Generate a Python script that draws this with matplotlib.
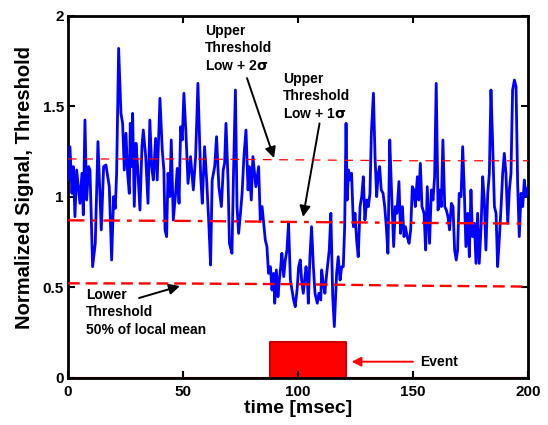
import matplotlib
matplotlib.use("Agg")
import matplotlib.pyplot as plt
import numpy as np

plt.rcParams['font.family'] = ['Liberation Sans', 'DejaVu Sans']
plt.rcParams['font.weight'] = 'bold'

# ---- data ----
sig_t = [0.0, 0.87, 1.74, 2.32, 3.04, 3.77, 5.22, 6.09, 6.67, 7.39, 8.12, 8.99, 9.57, 10.72, 11.88,
         13.04, 14.49, 15.51, 16.52, 17.97, 18.99, 19.86, 20.58, 21.16, 22.03, 23.04, 23.77, 24.49,
         25.22, 25.94, 26.67, 27.10, 27.68, 28.12, 28.84, 29.57, 30.29, 31.30, 32.17, 32.75,
         33.8, 34.8, 35.6, 36.4, 37.1, 38.1, 38.8, 40.0, 41.0, 41.7, 42.2, 42.9, 43.5, 44.3, 44.9,
         45.8, 46.8, 47.5, 48.3, 49.0, 49.7, 50.4, 51.3, 52.2, 53.3, 54.5, 55.5, 56.5, 57.7, 58.4,
         59.4, 60.3, 61.3, 62.0, 62.7, 63.8, 64.6, 65.6, 66.7, 67.5,
         68.1, 68.7, 69.6, 70.2, 71.3, 72.0, 72.8, 73.5, 74.2, 75.0, 75.7, 76.5, 77.4, 78.3, 78.8,
         79.7, 80.4, 81.0, 81.7, 82.9, 83.6, 84.4, 85.1, 85.8, 86.5, 87.2, 88.0, 88.7, 89.4, 89.9,
         90.6, 91.3, 91.9, 92.5, 93.0, 93.8, 94.5, 95.2, 95.9, 96.7, 97.4, 98.1, 98.8, 99.6, 100.3, 101.0,
         101.6, 102.3, 103.5, 104.1, 104.5, 105.2, 105.9, 106.7, 107.4, 108.4, 109.1, 109.9, 110.3,
         111.0, 111.7, 112.5, 113.6, 114.3, 115.1, 115.8, 116.8, 117.5, 118.3, 119.0, 119.7, 120.3,
         120.9, 121.4, 122.0, 122.6, 123.3, 124.1, 124.8, 125.5, 126.2, 127.0, 127.7, 128.4, 129.1,
         129.9, 130.6, 131.3, 131.9, 132.8, 133.5, 134.2, 134.9,
         135.5, 136.2, 137.0, 137.7, 138.4, 139.1, 139.9, 140.6, 141.6, 142.3, 143.0, 143.9, 144.6,
         145.4, 146.1, 146.7, 147.5, 148.3, 149.0, 149.7, 150.4, 151.0, 151.9, 152.5, 153.2, 153.9,
         154.8, 155.5, 156.2, 157.2, 158.0, 158.7, 159.4, 160.1, 160.9, 161.6, 162.3, 163.0, 163.8,
         164.5, 165.2, 165.9, 166.7, 167.4, 168.1, 168.8,
         169.4, 170.1, 170.9, 171.6, 172.3, 173.0, 173.8, 174.5, 175.2, 175.9, 176.7, 177.4, 178.1,
         178.8, 179.6, 180.3, 181.0, 181.7, 182.5, 183.2, 183.9, 184.6, 185.4, 186.1, 186.8, 187.5,
         188.3, 189.0, 189.7, 190.4, 191.2, 191.9, 192.6, 193.3, 194.1, 194.8, 195.5, 196.2, 197.0,
         197.7, 198.4, 199.1, 200.0]
sig_v = [1.094, 1.278, 1.020, 1.168, 0.891, 1.149, 0.965, 1.131, 0.901, 1.425, 0.983, 1.168, 1.149,
         0.615, 0.744, 1.306, 0.818, 1.168, 1.177, 1.057, 0.652, 1.002, 0.937, 1.131, 1.821, 1.462,
         1.407, 1.149, 1.352, 1.131, 1.020, 1.407, 1.168, 1.462, 0.948, 1.297, 1.168, 0.928, 1.278, 1.370,
         1.223, 0.965, 1.425, 1.168, 1.094, 1.324, 1.094, 1.545, 1.260, 1.149, 0.818, 0.781, 1.131,
         1.002, 1.315, 0.873, 1.020, 1.158, 0.965, 1.388, 1.315, 1.573, 1.352, 1.075, 1.223, 1.039,
         1.223, 1.628, 1.112, 0.965, 1.278, 1.094, 0.836, 0.624, 1.094, 1.168, 1.333, 1.057, 0.947, 1.149,
         1.186, 1.407, 1.094, 0.744, 0.689, 1.149, 1.591, 0.947, 0.799, 0.910, 1.020, 1.223, 1.370,
         1.039, 1.168, 0.983, 1.223, 1.149, 1.057, 1.168, 0.873, 0.947, 0.855, 0.762, 0.726, 0.578,
         0.615, 0.486, 0.578, 0.413, 0.597, 0.449, 0.541, 0.615, 0.689, 0.560, 0.652, 0.707, 0.855,
         0.541, 0.486, 0.431, 0.394, 0.486, 0.615, 0.652,
         0.541, 0.468, 0.615, 0.541, 0.413, 0.670, 0.836, 0.615, 0.468, 0.413, 0.468, 0.431, 0.597,
         0.523, 0.468, 0.578, 0.707, 0.910, 0.449, 0.284, 0.578, 0.670, 0.541, 0.615, 0.615, 0.836,
         1.407, 0.983, 1.149, 1.094, 1.131, 0.836, 0.910, 0.762, 0.670, 0.947, 1.002, 1.112, 0.873,
         0.983, 0.947, 1.020, 1.352, 1.573, 1.223, 1.002, 1.131,
         1.168, 1.039, 1.020, 0.947, 0.836, 0.689, 1.315, 1.057, 0.726, 0.947, 0.910, 1.085, 0.799,
         0.947, 0.781, 0.836, 0.781, 0.744, 0.818, 1.057, 1.039, 0.947, 1.112, 0.983, 1.186, 0.947,
         0.910, 0.707, 1.057, 0.744, 1.039, 0.983, 1.112, 1.628, 0.928, 1.039, 0.947, 1.315, 0.947,
         0.928, 0.891, 0.818, 0.965, 0.947, 0.707, 0.652,
         0.707, 1.020, 1.002, 1.278, 1.039, 0.726, 0.910, 0.670, 1.039, 0.781, 0.855, 0.633, 0.910,
         0.633, 0.836, 1.112, 0.983, 0.707, 1.020, 1.131, 1.591, 1.315, 0.947, 0.910, 0.615, 0.762,
         0.947, 1.131, 1.241, 1.131, 0.855, 1.039, 1.131, 1.591, 1.646, 1.610, 1.075, 0.781, 1.020,
         0.947, 1.094, 1.002, 1.050]

thr_t = [0, 50, 100, 150, 200]
upper_2sigma = [1.210, 1.210, 1.205, 1.200, 1.200]
upper_1sigma = [0.871, 0.868, 0.862, 0.857, 0.853]
lower_thr = [0.523, 0.522, 0.518, 0.510, 0.505]

event_t = [0, 88, 88, 121, 121, 200]
event_v = [0, 0, 0.2, 0.2, 0, 0]

x_ticks = [0, 50, 100, 150, 200]
y_ticks = [0, 0.5, 1, 1.5, 2]
y_ticklabels = ['0', '0.5', '1', '1.5', '2']

# ---- figure ----
fig = plt.figure(figsize=(5.48, 4.25), dpi=100)
ax = fig.add_axes([0.124, 0.1106, 0.8395, 0.8518])

ax.fill_between(event_t, event_v, 0, color='#ff0000', lw=0)
ax.plot(event_t, event_v, color='#cc0000', lw=1.5, clip_on=False, zorder=1)

ax.plot(sig_t, sig_v, color='#0000ff', lw=2, zorder=3)

ax.plot(thr_t, upper_2sigma, color='#ff0000', lw=0.9, dashes=(7, 6), zorder=4)
ax.plot(thr_t, upper_1sigma, color='#ff0000', lw=1.7, dashes=(7, 3, 2, 3), zorder=4)
ax.plot(thr_t, lower_thr, color='#ff0000', lw=1.7, dashes=(5, 2.5), zorder=4)

ax.set_xlim(0, 200)
ax.set_ylim(0, 2)
ax.set_xticks(x_ticks)
ax.set_yticks(y_ticks)
ax.set_yticklabels(y_ticklabels)
ax.tick_params(direction='in', length=5, width=1.5, top=True, right=True, labelsize=11)
ax.tick_params(axis='x', pad=5)
ax.tick_params(axis='y', pad=3)
for lab in ax.get_xticklabels() + ax.get_yticklabels():
    lab.set_fontweight('bold')
for s in ax.spines.values():
    s.set_linewidth(2)

ax.set_xlabel('time [msec]', fontsize=14, fontweight='bold', labelpad=1)
ax.set_ylabel('Normalized Signal, Threshold', fontsize=14.5, fontweight='bold')
ax.yaxis.set_label_coords(-0.074, 0.525)

arrow_k = dict(arrowstyle='-|>', color='k', lw=1.4, mutation_scale=16, shrinkA=0, shrinkB=0)
ax.annotate('Upper\nThreshold\nLow + 2$\\mathbf{\\sigma}$', xy=(89.6, 1.215), xytext=(59.5, 1.955),
            fontsize=10, fontweight='bold', ha='left', va='top', linespacing=1.3,
            arrowprops=dict(arrowstyle='-|>', color='k', lw=1.4, mutation_scale=16,
                            shrinkA=2, shrinkB=0, relpos=(0.6, 0.0)))
ax.annotate('Upper\nThreshold\nLow + 1$\\mathbf{\\sigma}$', xy=(102.2, 0.89), xytext=(93.5, 1.69),
            fontsize=10, fontweight='bold', ha='left', va='top', linespacing=1.3,
            arrowprops=dict(arrowstyle='-|>', color='k', lw=1.4, mutation_scale=16,
                            shrinkA=0, shrinkB=0, relpos=(0.55, 0.0)))
ax.text(7.8, 0.497, 'Lower\nThreshold\n50% of local mean', fontsize=10, fontweight='bold',
        ha='left', va='top', linespacing=1.3)
ax.annotate('', xy=(48.7, 0.508), xytext=(30.9, 0.442), arrowprops=arrow_k)
ax.annotate('Event', xy=(123.3, 0.09), xytext=(153.0, 0.09), fontsize=10, fontweight='bold',
            ha='left', va='center',
            arrowprops=dict(arrowstyle='-|>', color='#ff0000', lw=1.4, mutation_scale=14,
                            shrinkA=3, shrinkB=0))

fig.savefig('out.png', dpi=100)
